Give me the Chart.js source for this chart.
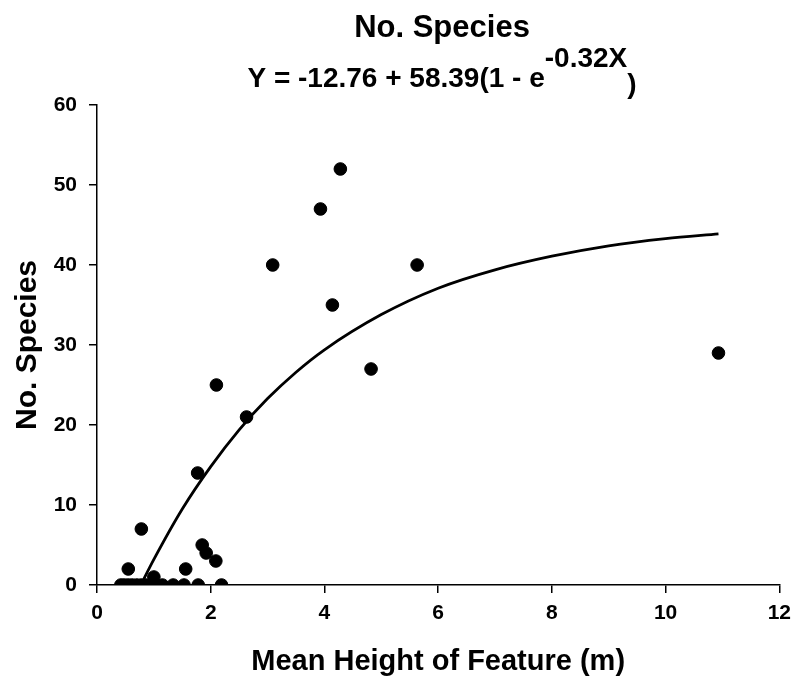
<!DOCTYPE html>
<html>
<head>
<meta charset="utf-8">
<script src="https://cdn.jsdelivr.net/npm/chart.js@4"></script>
<style>
  body { margin: 0; background: #fff; }
  #wrap { width: 799px; height: 683px; }
</style>
</head>
<body>
<div id="wrap"><canvas id="speciesChart"></canvas></div>
<script>
// Observed data: mean feature height (m) vs number of species
const heightM = [4.28, 3.93, 3.09, 5.63, 4.14, 2.10, 2.63, 4.82, 1.77, 1.85, 1.92, 2.09, 1.56,
                 0.78, 0.55, 1.00, 10.93,
                 0.42, 0.48, 0.55, 0.62, 0.70, 0.78, 0.86, 0.95, 1.05, 1.15, 1.34, 1.53, 1.78, 2.19];
const species = [52, 47, 40, 40, 35, 25, 21, 27, 14, 5, 4, 3, 2,
                 7, 2, 1, 29,
                 0, 0, 0, 0, 0, 0, 0, 0, 0, 0, 0, 0, 0, 0];

// Fitted curve
const fitX = [0.77, 1, 1.5, 2, 2.5, 3, 3.5, 4, 5, 6, 7, 8, 9, 10, 10.93];
const fitY = [0, 3.2, 9.5, 14.8, 19.4, 23.3, 26.6, 29.4, 33.8, 37.1, 39.4, 41.1, 42.4, 43.3, 43.9];

const xTicks = [0, 2, 4, 6, 8, 10, 12];
const yTicks = [0, 10, 20, 30, 40, 50, 60];

const titleText = 'No. Species';
const eqBase = 'Y = -12.76 + 58.39(1 - e';
const eqSup = '-0.32X';
const eqEnd = ')';

const FONT = '"Liberation Sans", Arial, sans-serif';

// Title and equation (with superscript) drawn above the plot
const titlePlugin = {
    id: 'titleEq',
    afterDraw(chart) {
        const ctx = chart.ctx;
        const cx = 442;
        ctx.save();
        ctx.fillStyle = '#000';
        ctx.textBaseline = 'alphabetic';
        ctx.textAlign = 'center';
        ctx.font = 'bold 31px ' + FONT;
        ctx.fillText(titleText, cx, 37);

        ctx.textAlign = 'left';
        ctx.font = 'bold 28px ' + FONT;
        const w1 = ctx.measureText(eqBase).width;
        const w2 = ctx.measureText(eqSup).width;
        const w3 = ctx.measureText(eqEnd).width;
        let x = cx - (w1 + w2 + w3) / 2;
        ctx.fillText(eqBase, x, 87);
        x += w1;
        ctx.fillText(eqSup, x, 67);
        x += w2;
        ctx.fillText(eqEnd, x, 93);
        ctx.restore();
    }
};

const points = heightM.map((h, i) => ({ x: h, y: species[i] }));
const fitPoints = fitX.map((h, i) => ({ x: h, y: fitY[i] }));

const ctx = document.getElementById('speciesChart').getContext('2d');
const chart = new Chart(ctx, {
    type: 'scatter',
    data: {
        datasets: [
            {
                label: 'Observed',
                data: points,
                backgroundColor: '#000',
                borderColor: '#000',
                pointRadius: 6.3,
                pointHoverRadius: 6.3,
                order: 1
            },
            {
                label: 'Fit',
                data: fitPoints,
                showLine: true,
                borderColor: '#000',
                borderWidth: 2.8,
                pointRadius: 0,
                cubicInterpolationMode: 'monotone',
                order: 2
            }
        ]
    },
    options: {
        responsive: true,
        maintainAspectRatio: false,
        animation: false,
        layout: { padding: { top: 105, right: 18, left: 0, bottom: 0 } },
        plugins: {
            legend: { display: false },
            tooltip: { enabled: false },
            title: { display: false }
        },
        scales: {
            x: {
                type: 'linear',
                min: 0,
                max: 12,
                afterBuildTicks: s => { s.ticks = xTicks.map(v => ({ value: v })); },
                afterFit: s => { s.height = 98; },
                grid: { drawOnChartArea: false, drawTicks: true, tickLength: 8, color: '#000', lineWidth: 1.5 },
                border: { display: true, color: '#000', width: 1.5 },
                ticks: { color: '#000', font: { family: FONT, size: 21, weight: 'bold' }, padding: 8 },
                title: {
                    display: true,
                    text: 'Mean Height of Feature (m)',
                    color: '#000',
                    font: { family: FONT, size: 29, weight: 'bold' },
                    padding: { top: 4 }
                }
            },
            y: {
                type: 'linear',
                min: 0,
                max: 60,
                afterBuildTicks: s => { s.ticks = yTicks.map(v => ({ value: v })); },
                afterFit: s => { s.width = 97; },
                grid: { drawOnChartArea: false, drawTicks: true, tickLength: 8, color: '#000', lineWidth: 1.5 },
                border: { display: true, color: '#000', width: 1.5 },
                ticks: { color: '#000', font: { family: FONT, size: 21, weight: 'bold' }, padding: 12 },
                title: {
                    display: true,
                    text: 'No. Species',
                    color: '#000',
                    font: { family: FONT, size: 30, weight: 'bold' },
                    padding: { top: 10, bottom: 0 }
                }
            }
        }
    },
    plugins: [titlePlugin]
});
</script>
</body>
</html>
